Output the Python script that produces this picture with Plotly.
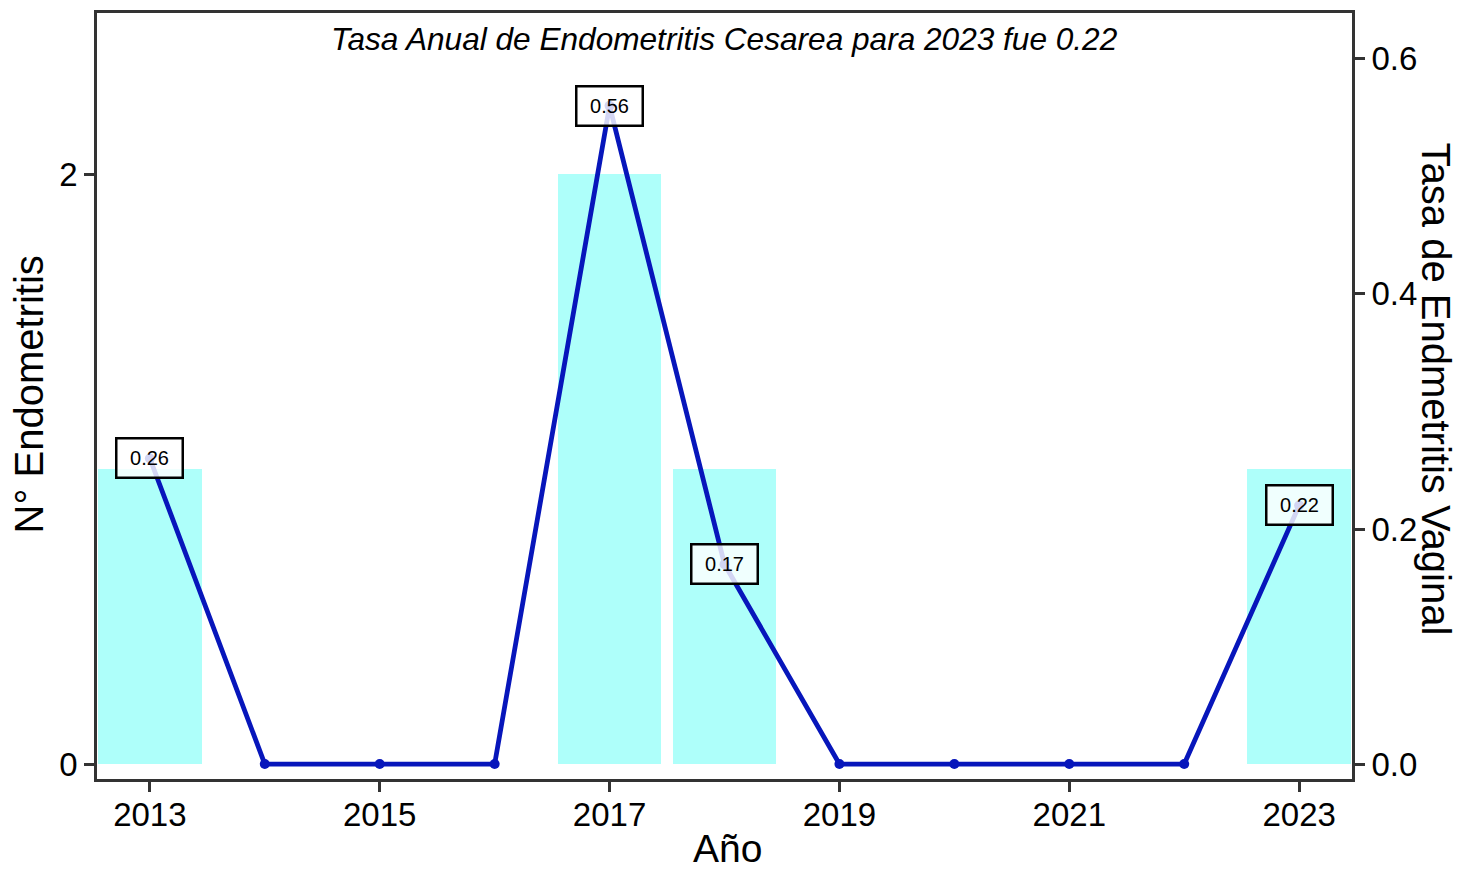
import plotly.graph_objects as go

years = [2013, 2014, 2015, 2016, 2017, 2018, 2019, 2020, 2021, 2022, 2023]
counts = [1, 0, 0, 0, 2, 1, 0, 0, 0, 0, 1]
rates = [0.26, 0, 0, 0, 0.56, 0.17, 0, 0, 0, 0, 0.22]
x_ticks = [2013, 2015, 2017, 2019, 2021, 2023]
y_left_ticks = [0, 2]
y_right_ticks = [0.0, 0.2, 0.4, 0.6]

title_text = "Tasa Anual de Endometritis Cesarea para 2023 fue 0.22"
x_title = "Año"
y_left_title = "N° Endometritis"
y_right_title = "Tasa de Endmetritis Vaginal"

FONT = "Liberation Sans, Arial, sans-serif"
AX = "#333333"

fig = go.Figure()
fig.add_trace(go.Bar(x=years, y=counts, width=0.9, marker=dict(color="#aefffa", line=dict(width=0)),
                     yaxis="y", showlegend=False, hoverinfo="x+y"))
fig.add_trace(go.Scatter(x=years, y=rates, yaxis="y2", mode="lines+markers",
                         line=dict(color="#0716bb", width=4.8), marker=dict(color="#0716bb", size=10),
                         showlegend=False))

annotations = []
for yr, r in zip(years, rates):
    if r > 0:
        annotations.append(dict(x=yr, y=r, xref="x", yref="y2", text=f"{r:.2f}", showarrow=False,
                                font=dict(family=FONT, size=20, color="black"),
                                bgcolor="rgba(255,255,255,0.82)", bordercolor="black",
                                borderwidth=2.5, borderpad=5, width=54, height=27,
                                xanchor="center", yanchor="middle"))

annotations.append(dict(x=0.5, y=(779 - 36) / 769, xref="paper", yref="paper", text=f"<i>{title_text}</i>",
                        showarrow=False, font=dict(family=FONT, size=31.6, color="black"),
                        xanchor="center", yanchor="middle"))
annotations.append(dict(x=(727 - 97) / 1255, y=(779 - 849) / 769, xref="paper", yref="paper", text=x_title,
                        showarrow=False, font=dict(family=FONT, size=39, color="black"),
                        xanchor="center", yanchor="middle"))
annotations.append(dict(x=(29 - 97) / 1255, y=(779 - 393) / 769, xref="paper", yref="paper", text=y_left_title,
                        showarrow=False, font=dict(family=FONT, size=40, color="black"), textangle=-90,
                        xanchor="center", yanchor="middle"))
annotations.append(dict(x=(1436 - 97) / 1255, y=(779 - 387) / 769, xref="paper", yref="paper", text=y_right_title,
                        showarrow=False, font=dict(family=FONT, size=40, color="black"), textangle=90,
                        xanchor="center", yanchor="middle"))

tickfont = dict(family=FONT, size=33, color="black")
fig.update_layout(
    width=1475, height=872,
    margin=dict(l=97, r=123, t=10, b=93),
    paper_bgcolor="white", plot_bgcolor="white",
    bargap=0,
    xaxis=dict(range=[2012.54, 2023.46], tickvals=x_ticks, ticks="outside", ticklen=10, tickwidth=2.8,
               tickcolor=AX, showline=True, linecolor=AX, linewidth=2.8, mirror=True, showgrid=False,
               zeroline=False, tickfont=tickfont, ticklabelstandoff=-6),
    yaxis=dict(range=[-0.0507, 2.547], tickvals=y_left_ticks, ticks="outside", ticklen=10, tickwidth=2.8,
               tickcolor=AX, showline=True, linecolor=AX, linewidth=2.8, mirror=True, showgrid=False,
               zeroline=False, tickfont=tickfont),
    yaxis2=dict(range=[-0.0127, 0.639], tickvals=y_right_ticks, tickformat=".1f", overlaying="y", side="right",
                ticks="outside", ticklen=10, tickwidth=2.8, tickcolor=AX, showline=True, linecolor=AX,
                linewidth=2.8, showgrid=False, zeroline=False, tickfont=tickfont),
    annotations=annotations,
)

fig.write_html("out.html", config={"displayModeBar": False},
               post_script="document.body.style.margin='0';document.body.style.overflow='hidden';")
